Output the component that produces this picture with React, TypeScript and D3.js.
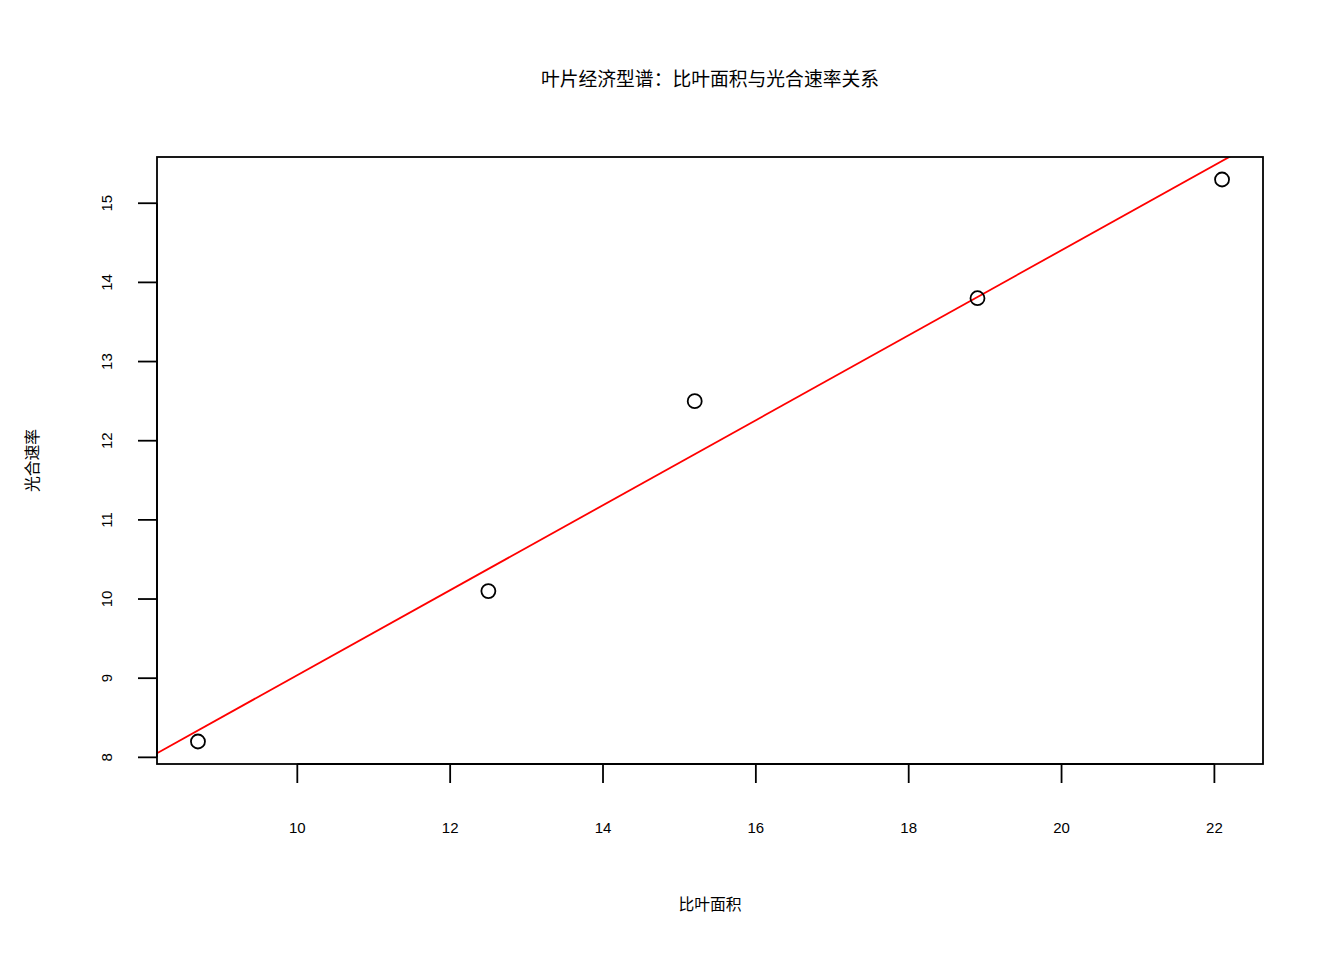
import * as d3 from "d3";
import { useEffect, useRef } from "react";

const sla = [8.7, 12.5, 15.2, 18.9, 22.1];
const photo = [8.2, 10.1, 12.5, 13.8, 15.3];
const xTicks = [10, 12, 14, 16, 18, 20, 22];
const yTicks = [8, 9, 10, 11, 12, 13, 14, 15];

const title = "叶片经济型谱：比叶面积与光合速率关系";
const xLabel = "比叶面积";
const yLabel = "光合速率";

// R-style axis range: data extent padded by 4%
function padded(values: number[]): [number, number] {
  const [lo, hi] = d3.extent(values) as [number, number];
  const pad = (hi - lo) * 0.04;
  return [lo - pad, hi + pad];
}

export default function App() {
  const ref = useRef<SVGSVGElement | null>(null);

  useEffect(() => {
    if (!ref.current) {
      return;
    }
    const width = 1344;
    const height = 960;
    const left = 157;
    const right = 1263;
    const top = 157;
    const bottom = 764;
    const latin = "'Liberation Sans', Arial, sans-serif";
    const cjk = "'Noto Sans CJK SC', sans-serif";

    const svg = d3.select(ref.current);
    svg.selectAll("*").remove();
    svg.attr("viewBox", `0 0 ${width} ${height}`);
    svg.append("rect").attr("width", width).attr("height", height).attr("fill", "#fff");

    const x = d3.scaleLinear().domain(padded(sla)).range([left, right]);
    const y = d3.scaleLinear().domain(padded(photo)).range([bottom, top]);

    // least squares fit
    const mx = d3.mean(sla)!;
    const my = d3.mean(photo)!;
    const sxy = d3.sum(sla, (v, i) => (v - mx) * (photo[i] - my));
    const sxx = d3.sum(sla, (v) => (v - mx) ** 2);
    const slope = sxy / sxx;
    const intercept = my - slope * mx;

    svg
      .append("clipPath")
      .attr("id", "plot-clip")
      .append("rect")
      .attr("x", left)
      .attr("y", top)
      .attr("width", right - left)
      .attr("height", bottom - top);

    const [x0, x1] = x.domain();
    svg
      .append("line")
      .attr("clip-path", "url(#plot-clip)")
      .attr("x1", x(x0))
      .attr("y1", y(intercept + slope * x0))
      .attr("x2", x(x1))
      .attr("y2", y(intercept + slope * x1))
      .attr("stroke", "#ff0000")
      .attr("stroke-width", 1.8);

    svg
      .append("g")
      .selectAll("circle")
      .data(sla)
      .join("circle")
      .attr("cx", (d) => x(d))
      .attr("cy", (_, i) => y(photo[i]))
      .attr("r", 7)
      .attr("fill", "none")
      .attr("stroke", "#000")
      .attr("stroke-width", 1.8);

    svg
      .append("rect")
      .attr("x", left)
      .attr("y", top)
      .attr("width", right - left)
      .attr("height", bottom - top)
      .attr("fill", "none")
      .attr("stroke", "#000")
      .attr("stroke-width", 1.8);

    const xAxis = svg.append("g");
    xAxis
      .append("line")
      .attr("x1", x(xTicks[0]))
      .attr("x2", x(xTicks[xTicks.length - 1]))
      .attr("y1", bottom)
      .attr("y2", bottom)
      .attr("stroke", "#000")
      .attr("stroke-width", 1.8);
    xTicks.forEach((t) => {
      xAxis
        .append("line")
        .attr("x1", x(t))
        .attr("x2", x(t))
        .attr("y1", bottom)
        .attr("y2", bottom + 19)
        .attr("stroke", "#000")
        .attr("stroke-width", 1.8);
      xAxis
        .append("text")
        .attr("x", x(t))
        .attr("y", 827)
        .attr("text-anchor", "middle")
        .attr("dominant-baseline", "central")
        .attr("font-family", latin)
        .attr("font-size", 15)
        .text(t);
    });

    const yAxis = svg.append("g");
    yAxis
      .append("line")
      .attr("x1", left)
      .attr("x2", left)
      .attr("y1", y(yTicks[0]))
      .attr("y2", y(yTicks[yTicks.length - 1]))
      .attr("stroke", "#000")
      .attr("stroke-width", 1.8);
    yTicks.forEach((t) => {
      yAxis
        .append("line")
        .attr("x1", left - 19)
        .attr("x2", left)
        .attr("y1", y(t))
        .attr("y2", y(t))
        .attr("stroke", "#000")
        .attr("stroke-width", 1.8);
      yAxis
        .append("text")
        .attr("transform", `translate(106, ${y(t)}) rotate(-90)`)
        .attr("text-anchor", "middle")
        .attr("dominant-baseline", "central")
        .attr("font-family", latin)
        .attr("font-size", 15)
        .text(t);
    });

    svg
      .append("text")
      .attr("x", (left + right) / 2)
      .attr("y", 77)
      .attr("text-anchor", "middle")
      .attr("dominant-baseline", "central")
      .attr("font-family", cjk)
      .attr("font-size", 18.8)
      .text(title);

    svg
      .append("text")
      .attr("x", (left + right) / 2)
      .attr("y", 903)
      .attr("text-anchor", "middle")
      .attr("dominant-baseline", "central")
      .attr("font-family", cjk)
      .attr("font-size", 15.8)
      .text(xLabel);

    svg
      .append("text")
      .attr("transform", `translate(31, ${(top + bottom) / 2}) rotate(-90)`)
      .attr("text-anchor", "middle")
      .attr("dominant-baseline", "central")
      .attr("font-family", cjk)
      .attr("font-size", 15.8)
      .text(yLabel);
  }, []);

  return (
    <svg
      ref={ref}
      width={1344}
      height={960}
      style={{ position: "absolute", left: 0, top: 0, display: "block" }}
      aria-label="比叶面积与光合速率散点图"
    />
  );
}
